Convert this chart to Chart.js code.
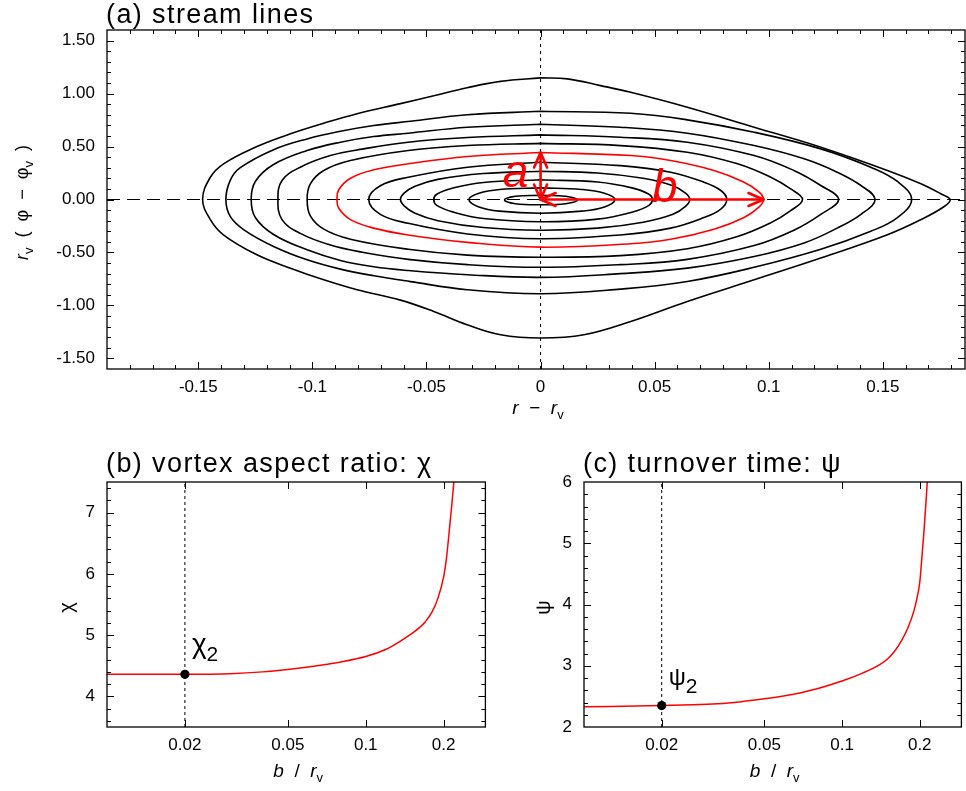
<!DOCTYPE html>
<html>
<head>
<meta charset="utf-8">
<title>stream lines, vortex aspect ratio, turnover time</title>
<script src="https://cdn.jsdelivr.net/npm/chart.js@4.4.1/dist/chart.umd.min.js"></script>
<style>
  html, body { margin: 0; padding: 0; background: #fff; }
  #wrap { position: relative; width: 966px; height: 791px; }
  canvas { position: absolute; }
  #streamChart { left: 0; top: 0; }
  #chiChart { left: 0; top: 430px; }
  #psiChart { left: 490px; top: 430px; }
</style>
</head>
<body>
<div id="wrap">
  <canvas id="streamChart" width="966" height="430"></canvas>
  <canvas id="chiChart" width="490" height="361"></canvas>
  <canvas id="psiChart" width="476" height="361"></canvas>
</div>
<script>
const FONT = '"Liberation Sans", Arial, Helvetica, sans-serif';
const RED = '#ff0000';

// (a) stream lines, [r - rv, rv (phi - phiv)], from the centre outwards
const contour1 = [[0, 0.04], [0.011, 0.03], [0.0162, -0.005], [0.011, -0.04], [0, -0.05], [-0.011, -0.04], [-0.0158, -0.005], [-0.011, 0.03], [0, 0.04]];
const contour2 = [[0, 0.11], [0.018, 0.095], [0.028, 0.06], [0.0326, 0], [0.028, -0.07], [0.018, -0.11], [0, -0.13], [-0.018, -0.11], [-0.027, -0.07], [-0.0314, 0], [-0.027, 0.06], [-0.018, 0.095], [0, 0.11]];
const contour3 = [[0, 0.186], [0.025, 0.165], [0.04, 0.11], [0.0475, 0.05], [0.049, 0], [0.0475, -0.055], [0.04, -0.12], [0.025, -0.185], [0, -0.21], [-0.025, -0.18], [-0.038, -0.12], [-0.0455, -0.055], [-0.0468, 0], [-0.0455, 0.05], [-0.038, 0.11], [-0.025, 0.16], [0, 0.186]];
const contour4 = [[0, 0.267], [0.025, 0.25], [0.045, 0.2], [0.058, 0.13], [0.0635, 0.06], [0.0654, 0], [0.0635, -0.065], [0.058, -0.14], [0.045, -0.215], [0.025, -0.27], [0, -0.29], [-0.025, -0.265], [-0.045, -0.2], [-0.055, -0.13], [-0.0598, -0.06], [-0.0614, 0], [-0.0598, 0.06], [-0.055, 0.125], [-0.045, 0.19], [-0.025, 0.245], [0, 0.267]];
const contour5 = [[0, 0.352], [0.035, 0.32], [0.057, 0.258], [0.0716, 0.163], [0.079, 0.085], [0.0816, 0], [0.079, -0.09], [0.0716, -0.17], [0.057, -0.27], [0.035, -0.335], [0, -0.37], [-0.032, -0.325], [-0.058, -0.225], [-0.0702, -0.14], [-0.0753, 0], [-0.0702, 0.13], [-0.058, 0.21], [-0.032, 0.305], [0, 0.352]];
const contour6 = [[0, 0.443], [0.0395, 0.415], [0.057, 0.368], [0.076, 0.274], [0.0892, 0.163], [0.0958, 0.069], [0.0977, 0], [0.0958, -0.07], [0.0892, -0.17], [0.076, -0.28], [0.057, -0.375], [0.0395, -0.418], [0, -0.45], [-0.032, -0.405], [-0.058, -0.335], [-0.0731, -0.27], [-0.0833, -0.19], [-0.0885, -0.08], [-0.0892, 0], [-0.0885, 0.09], [-0.0833, 0.2], [-0.0731, 0.28], [-0.058, 0.337], [-0.032, 0.406], [0, 0.443]];
const contour7 = [[0, 0.53], [0.035, 0.509], [0.0643, 0.446], [0.0863, 0.337], [0.1009, 0.21], [0.1096, 0.1], [0.1148, 0], [0.1096, -0.105], [0.1009, -0.22], [0.0863, -0.35], [0.0643, -0.465], [0.035, -0.53], [0, -0.545], [-0.032, -0.525], [-0.058, -0.47], [-0.0833, -0.375], [-0.095, -0.28], [-0.1009, -0.155], [-0.1023, 0], [-0.1009, 0.148], [-0.095, 0.274], [-0.0833, 0.368], [-0.058, 0.462], [-0.032, 0.51], [0, 0.53]];
const contour8 = [[0, 0.61], [0.035, 0.588], [0.0643, 0.541], [0.0936, 0.415], [0.111, 0.274], [0.1228, 0.132], [0.1306, 0], [0.1228, -0.14], [0.111, -0.29], [0.0936, -0.435], [0.0643, -0.565], [0.035, -0.615], [0, -0.64], [-0.032, -0.615], [-0.058, -0.565], [-0.0775, -0.5], [-0.0921, -0.43], [-0.1053, -0.32], [-0.1133, -0.19], [-0.1151, 0], [-0.1133, 0.179], [-0.1053, 0.305], [-0.0921, 0.415], [-0.0775, 0.478], [-0.058, 0.541], [-0.032, 0.585], [0, 0.61]];
const contour9 = [[0, 0.71], [0.035, 0.682], [0.0643, 0.626], [0.0936, 0.509], [0.1155, 0.384], [0.13, 0.258], [0.1404, 0.132], [0.1466, 0], [0.1404, -0.14], [0.13, -0.27], [0.1155, -0.41], [0.0936, -0.538], [0.0643, -0.648], [0.035, -0.7], [0, -0.735], [-0.032, -0.71], [-0.058, -0.67], [-0.0731, -0.635], [-0.0877, -0.575], [-0.1023, -0.475], [-0.117, -0.33], [-0.125, -0.17], [-0.1268, 0], [-0.125, 0.17], [-0.117, 0.33], [-0.1023, 0.462], [-0.0877, 0.541], [-0.0731, 0.594], [-0.058, 0.626], [-0.032, 0.682], [0, 0.71]];
const contour10 = [[0, 0.833], [0.0395, 0.814], [0.0643, 0.752], [0.0936, 0.635], [0.1228, 0.478], [0.1447, 0.305], [0.1564, 0.17], [0.1626, 0], [0.1564, -0.17], [0.1447, -0.3], [0.1228, -0.47], [0.0936, -0.64], [0.0643, -0.774], [0.035, -0.846], [0, -0.89], [-0.0322, -0.852], [-0.057, -0.775], [-0.0731, -0.72], [-0.0877, -0.657], [-0.1023, -0.569], [-0.117, -0.443], [-0.13, -0.286], [-0.136, -0.16], [-0.1379, 0], [-0.136, 0.18], [-0.1316, 0.3], [-0.117, 0.47], [-0.1023, 0.572], [-0.0877, 0.644], [-0.0731, 0.698], [-0.057, 0.739], [-0.0322, 0.8], [0, 0.833]];
const contour11 = [[0, 1.148], [0.0117, 1.139], [0.0263, 1.075], [0.0395, 1.012], [0.0643, 0.871], [0.0936, 0.682], [0.1228, 0.493], [0.152, 0.274], [0.1667, 0.148], [0.1754, 0.054], [0.1795, 0], [0.1769, -0.066], [0.1667, -0.19], [0.152, -0.333], [0.1228, -0.553], [0.0936, -0.758], [0.0643, -0.962], [0.0395, -1.151], [0.019, -1.277], [0, -1.308], [-0.0175, -1.277], [-0.0322, -1.182], [-0.0468, -1.057], [-0.0614, -0.95], [-0.0804, -0.852], [-0.095, -0.758], [-0.1096, -0.648], [-0.1243, -0.522], [-0.139, -0.333], [-0.1447, -0.19], [-0.1481, 0], [-0.1447, 0.21], [-0.1389, 0.337], [-0.1243, 0.5], [-0.1096, 0.62], [-0.095, 0.72], [-0.0804, 0.81], [-0.0614, 0.905], [-0.0468, 0.98], [-0.0322, 1.055], [-0.0175, 1.115], [0, 1.148]];
const contours = [contour1, contour2, contour3, contour4, contour5, contour6, contour7, contour8, contour9, contour10, contour11];
const redContour = 6;

const streamXRange = [-0.19, 0.186];
const streamYRange = [-1.6, 1.6];
const streamXTicks = [-0.15, -0.1, -0.05, 0, 0.05, 0.1, 0.15];
const streamYTicks = [-1.5, -1, -0.5, 0, 0.5, 1, 1.5];
const arrowA = [[0, 0], [0, 0.443]];
const arrowB = [[0, 0], [0.0977, 0]];
const labelA = [-0.011, 0.116];
const labelB = [0.0544, -0.019];

// (b) aspect ratio and (c) turnover time against b / rv
const chiB = [0.01, 0.02, 0.03, 0.04, 0.05, 0.06, 0.07, 0.08, 0.1, 0.12, 0.13, 0.15, 0.16, 0.17, 0.18, 0.19, 0.2, 0.205, 0.21, 0.215, 0.2195];
const chiVals = [4.36, 4.36, 4.37, 4.4, 4.44, 4.48, 4.52, 4.56, 4.65, 4.77, 4.85, 5.02, 5.11, 5.22, 5.37, 5.6, 5.95, 6.25, 6.68, 7.12, 7.55];
const psiB = [0.01, 0.02, 0.03, 0.04, 0.05, 0.06, 0.07, 0.08, 0.1, 0.12, 0.14, 0.15, 0.16, 0.17, 0.18, 0.19, 0.195, 0.2, 0.203, 0.2078, 0.2121, 0.216];
const psiVals = [2.33, 2.35, 2.37, 2.41, 2.46, 2.51, 2.565, 2.625, 2.75, 2.88, 3.02, 3.11, 3.24, 3.41, 3.62, 3.9, 4.1, 4.36, 4.67, 5.21, 5.76, 6.3];
const chi2 = [0.02, 4.36];
const psi2 = [0.02, 2.35];
const bRange = [0.01, 0.29];
const bTicks = [0.02, 0.05, 0.1, 0.2];
const chiRange = [3.5, 7.5];
const chiTicks = [4, 5, 6, 7];
const psiRange = [2, 6];
const psiTicks = [2, 3, 4, 5, 6];

const pts = arr => arr.map(([x, y]) => ({ x, y }));
const tickFont = { family: FONT, size: 17 };

function steps(min, max, step) {
  const out = [];
  for (let k = Math.ceil(min / step - 1e-9); k * step <= max + 1e-9; k++) out.push(+(k * step).toFixed(6));
  return out;
}

function richText(ctx, parts, x, y, size, align) {
  const fontOf = p => (p.it ? 'italic ' : '') + (p.size || size) + 'px ' + FONT;
  let w = 0;
  parts.forEach(p => { ctx.font = fontOf(p); w += ctx.measureText(p.t).width; });
  let cx = align === 'center' ? x - w / 2 : x;
  ctx.textAlign = 'left';
  ctx.textBaseline = 'alphabetic';
  parts.forEach(p => {
    ctx.font = fontOf(p);
    ctx.fillText(p.t, cx, y + (p.dy || 0));
    cx += ctx.measureText(p.t).width;
  });
}

function head(ctx, x0, y0, x1, y1) {
  const ang = Math.atan2(y1 - y0, x1 - x0), len = 15, half = 6.5;
  const bx = x1 - len * Math.cos(ang), by = y1 - len * Math.sin(ang);
  ctx.beginPath();
  ctx.moveTo(bx + half * Math.sin(ang), by - half * Math.cos(ang));
  ctx.lineTo(x1, y1);
  ctx.lineTo(bx - half * Math.sin(ang), by + half * Math.cos(ang));
  ctx.stroke();
}

// box, inward ticks on all four sides, title and axis titles
const frame = {
  id: 'frame',
  afterDraw(chart, args, o) {
    const { ctx, chartArea: a } = chart;
    const sx = chart.scales.x, sy = chart.scales.y;
    ctx.save();
    ctx.strokeStyle = '#000';
    ctx.lineWidth = 1;
    ctx.beginPath();
    const xt = (vals, len) => vals.forEach(v => {
      const p = Math.round(sx.getPixelForValue(v)) + 0.5;
      if (p <= a.left + 1 || p >= a.right - 1) return;
      ctx.moveTo(p, a.bottom); ctx.lineTo(p, a.bottom - len);
      ctx.moveTo(p, a.top); ctx.lineTo(p, a.top + len);
    });
    const yt = (vals, len) => vals.forEach(v => {
      const p = Math.round(sy.getPixelForValue(v)) + 0.5;
      if (p <= a.top + 1 || p >= a.bottom - 1) return;
      ctx.moveTo(a.left, p); ctx.lineTo(a.left + len, p);
      ctx.moveTo(a.right, p); ctx.lineTo(a.right - len, p);
    });
    xt(o.xMajor, 7); xt(o.xMinor, 4);
    yt(o.yMajor, 7); yt(o.yMinor, 4);
    ctx.stroke();
    ctx.lineWidth = 1.3;
    ctx.strokeRect(a.left, a.top, a.width, a.height);

    ctx.fillStyle = '#000';
    ctx.font = '27px ' + FONT;
    ctx.textAlign = 'left';
    ctx.textBaseline = 'alphabetic';
    ctx.letterSpacing = '1.4px';
    ctx.fillText(o.title, a.left - 1, a.top - o.titleGap);
    ctx.letterSpacing = '0px';
    richText(ctx, o.xLabel, (a.left + a.right) / 2 + 2, a.bottom + o.xLabelGap, 19, 'center');
    if (o.note) {
      const nx = sx.getPixelForValue(o.note.at[0]) + 7;
      const ny = sy.getPixelForValue(o.note.at[1]) - 21;
      richText(ctx, o.note.parts, nx, ny, 26, 'left');
    }
    ctx.translate(a.left - o.yLabelGap, (a.top + a.bottom) / 2 + 3);
    ctx.rotate(-Math.PI / 2);
    richText(ctx, o.yLabel, 0, 0, o.yLabelSize, 'center');
    ctx.restore();
  }
};

// red a / b arrows and letters in panel (a)
const streamMarks = {
  id: 'streamMarks',
  afterDatasetsDraw(chart) {
    const { ctx, scales: { x, y } } = chart;
    const px = p => [x.getPixelForValue(p[0]), y.getPixelForValue(p[1])];
    ctx.save();
    ctx.strokeStyle = RED;
    ctx.fillStyle = RED;
    ctx.lineWidth = 2.6;
    ctx.lineCap = 'round';
    ctx.lineJoin = 'round';
    [arrowA, arrowB].forEach(([p0, p1]) => {
      const [x0, y0] = px(p0), [x1, y1] = px(p1);
      ctx.beginPath(); ctx.moveTo(x0, y0); ctx.lineTo(x1, y1); ctx.stroke();
      head(ctx, x0, y0, x1, y1);
      head(ctx, x1, y1, x0, y0);
    });
    ctx.font = 'italic 46px ' + FONT;
    ctx.textAlign = 'center';
    ctx.textBaseline = 'alphabetic';
    [[labelA, 'a'], [labelB, 'b']].forEach(([p, t]) => {
      const [lx, ly] = px(p);
      ctx.fillText(t, lx, ly);
    });
    ctx.restore();
  }
};

function lineSet(data, color, width, extra) {
  return Object.assign({ data, showLine: true, borderColor: color, borderWidth: width, pointRadius: 0, fill: false }, extra);
}

function axis(type, range, ticks, fmt, size, isX) {
  return {
    type, min: range[0], max: range[1],
    grid: { display: false, drawTicks: false },
    border: { display: false },
    ticks: { font: tickFont, color: '#000', padding: isX ? 8 : 12, maxRotation: 0, autoSkip: false, callback: fmt },
    afterBuildTicks: s => { s.ticks = ticks.map(value => ({ value })); },
    afterFit: s => { if (isX) s.height = size; else s.width = size; }
  };
}

const baseOptions = (padding, scales, frameOpts) => ({
  responsive: false,
  animation: false,
  events: [],
  layout: { padding },
  scales,
  plugins: { legend: { display: false }, tooltip: { enabled: false }, frame: frameOpts }
});

const rv = { t: 'v', size: 13, dy: 5 };

new Chart(document.getElementById('streamChart'), {
  type: 'scatter',
  data: {
    datasets: [
      ...contours.map((c, i) => lineSet(pts(c), i + 1 === redContour ? RED : '#000', 1.6, { tension: 0.4 })),
      lineSet([{ x: streamXRange[0], y: 0 }, { x: streamXRange[1], y: 0 }], '#000', 1.2, { borderDash: [13, 7] }),
      lineSet([{ x: 0, y: streamYRange[0] }, { x: 0, y: streamYRange[1] }], '#000', 1, { borderDash: [3, 4] })
    ]
  },
  options: baseOptions({ top: 30, right: 1, left: 0, bottom: 0 }, {
    x: axis('linear', streamXRange, streamXTicks, v => String(v), 61, true),
    y: axis('linear', streamYRange, streamYTicks, v => v.toFixed(2), 107, false)
  }, {
    title: '(a) stream lines', titleGap: 7,
    xMajor: streamXTicks, xMinor: steps(streamXRange[0], streamXRange[1], 0.01),
    yMajor: streamYTicks, yMinor: steps(streamYRange[0], streamYRange[1], 0.1),
    xLabel: [{ t: 'r', it: true }, { t: '  \u2212  ' }, { t: 'r', it: true }, rv],
    xLabelGap: 45,
    yLabel: [{ t: 'r', it: true }, rv, { t: '  (  \u03c6  \u2212  \u03c6' }, rv, { t: '  )' }],
    yLabelGap: 79, yLabelSize: 18
  }),
  plugins: [frame, streamMarks]
});

function ratioChart(id, xs, ys, dot, yRange, yTicks, yWidth, title, symbol, symbolSize) {
  new Chart(document.getElementById(id), {
    type: 'scatter',
    data: {
      datasets: [
        { data: [{ x: dot[0], y: dot[1] }], pointRadius: 4.6, pointBackgroundColor: '#000', pointBorderWidth: 0, showLine: false },
        lineSet(xs.map((x, i) => ({ x, y: ys[i] })), RED, 1.5, { cubicInterpolationMode: 'monotone' }),
        lineSet([{ x: dot[0], y: yRange[0] }, { x: dot[0], y: yRange[1] }], '#000', 1, { borderDash: [3, 3] })
      ]
    },
    options: baseOptions({ top: 52, right: 1, left: 0, bottom: 0 }, {
      x: axis('logarithmic', bRange, bTicks, v => String(v), 64, true),
      y: axis('linear', yRange, yTicks, v => String(v), yWidth, false)
    }, {
      title, titleGap: 10,
      xMajor: bTicks, xMinor: [],
      yMajor: yTicks, yMinor: steps(yRange[0], yRange[1], 0.2),
      xLabel: [{ t: 'b', it: true }, { t: '  /  ' }, { t: 'r', it: true }, rv],
      xLabelGap: 50,
      yLabel: [{ t: symbol }], yLabelGap: 34, yLabelSize: 20,
      note: { at: dot, parts: [{ t: symbol, size: symbolSize }, { t: '2', size: 21, dy: 8 }] }
    }),
    plugins: [frame]
  });
}

ratioChart('chiChart', chiB, chiVals, chi2, chiRange, chiTicks, 107, '(b) vortex aspect ratio: \u03c7', '\u03c7', 28);
ratioChart('psiChart', psiB, psiVals, psi2, psiRange, psiTicks, 94, '(c) turnover time: \u03c8', '\u03c8', 24);
</script>
</body>
</html>
